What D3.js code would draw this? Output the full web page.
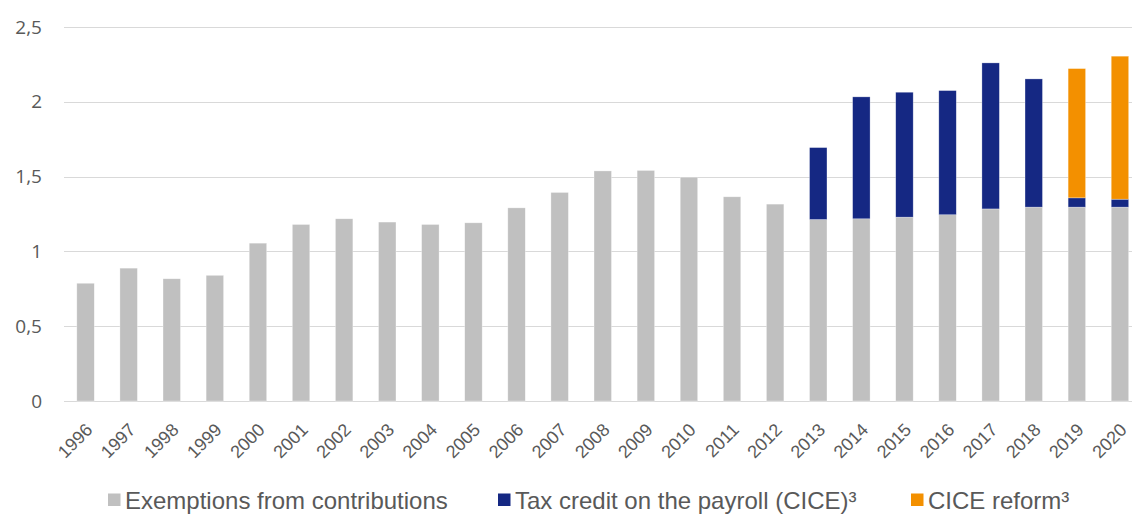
<!DOCTYPE html>
<html>
<head>
<meta charset="utf-8">
<script src="https://cdn.jsdelivr.net/npm/d3@7"></script>
<style>
  body { margin: 0; background: #fff; }
  svg { display: block; }
</style>
</head>
<body>
<div id="chart"></div>
<script>
const years = ['1996', '1997', '1998', '1999', '2000', '2001', '2002', '2003', '2004', '2005', '2006', '2007', '2008', '2009', '2010', '2011', '2012', '2013', '2014', '2015', '2016', '2017', '2018', '2019', '2020']

const exemptions = [0.787, 0.888, 0.817, 0.840, 1.055, 1.180, 1.218, 1.196, 1.180, 1.191, 1.291, 1.394, 1.538, 1.541, 1.496, 1.365, 1.316, 1.213, 1.218, 1.229, 1.245, 1.284, 1.296, 1.296, 1.296]
const cice = [0, 0, 0, 0, 0, 0, 0, 0, 0, 0, 0, 0, 0, 0, 0, 0, 0, 0.481, 0.815, 0.835, 0.830, 0.976, 0.857, 0.062, 0.053]
const ciceReform = [0, 0, 0, 0, 0, 0, 0, 0, 0, 0, 0, 0, 0, 0, 0, 0, 0, 0, 0, 0, 0, 0, 0, 0.864, 0.956]

const yTicks = [0, 0.5, 1, 1.5, 2, 2.5]
const seriesNames = ['Exemptions from contributions', 'Tax credit on the payroll (CICE)³', 'CICE reform³']
const seriesKeys = ['exemptions', 'cice', 'reform']

const width = 1132
const height = 514
const margin = { top: 27, left: 64, bottom: 113 }
const step = 43.1

const colorScale = d3.scaleOrdinal()
  .domain(seriesKeys)
  .range(['#c0c0c0', '#152883', '#f39000'])

const table = years.map((y, i) => ({
  year: y,
  exemptions: exemptions[i],
  cice: cice[i],
  reform: ciceReform[i]
}))

const svg = d3.select('#chart')
  .append('svg')
  .attr('width', width)
  .attr('height', height)

const xPositionScale = d3.scaleBand()
  .domain(years)
  .range([margin.left, margin.left + step * years.length])
  .paddingInner(0.595)
  .paddingOuter(0.2975)

const yPositionScale = d3.scaleLinear()
  .domain([0, 2.5])
  .range([height - margin.bottom, margin.top])

// gridlines
svg.append('g')
  .selectAll('line')
  .data(yTicks)
  .enter()
  .append('line')
  .attr('x1', margin.left)
  .attr('x2', width)
  .attr('y1', d => Math.round(yPositionScale(d)) + 0.5)
  .attr('y2', d => Math.round(yPositionScale(d)) + 0.5)
  .attr('stroke', '#d9d9d9')
  .attr('stroke-width', 1)

// y labels
const yAxis = d3.axisLeft(yPositionScale)
  .tickValues(yTicks)
  .tickSize(0)
  .tickPadding(0)
  .tickFormat(d => String(d).replace('.', ','))

svg.append('g')
  .attr('class', 'axis y-axis')
  .attr('transform', 'translate(42,0)')
  .call(yAxis)
  .call(g => g.select('.domain').remove())
  .selectAll('text')
  .attr('font-family', '"Open Sans", sans-serif')
  .attr('font-size', 19)
  .attr('fill', '#595959')

// stacked bars
const stacked = d3.stack().keys(seriesKeys)(table)

svg.append('g')
  .selectAll('g')
  .data(stacked)
  .enter()
  .append('g')
  .attr('fill', d => colorScale(d.key))
  .selectAll('rect')
  .data(d => d.filter(p => p[1] - p[0] > 0))
  .enter()
  .append('rect')
  .attr('x', d => xPositionScale(d.data.year))
  .attr('width', xPositionScale.bandwidth())
  .attr('y', d => yPositionScale(d[1]))
  .attr('height', d => yPositionScale(d[0]) - yPositionScale(d[1]))
  .attr('stroke', 'rgba(255,255,255,0.5)')
  .attr('stroke-width', 0.6)

// x labels
const xAxis = d3.axisBottom(xPositionScale).tickSize(0).tickPadding(0)

svg.append('g')
  .attr('class', 'axis x-axis')
  .attr('transform', `translate(0,${yPositionScale(0)})`)
  .call(xAxis)
  .call(g => g.select('.domain').remove())
  .selectAll('text')
  .attr('font-family', '"Liberation Sans", Arial, sans-serif')
  .attr('font-size', 18)
  .attr('fill', '#595959')
  .attr('text-anchor', 'end')
  .attr('dy', null)
  .attr('y', 0)
  .attr('transform', 'translate(8,30) rotate(-45)')

// legend
const legendX = [108, 498, 911]
const legend = svg.append('g')
  .attr('transform', 'translate(0,500)')

const items = legend.selectAll('g')
  .data(seriesKeys)
  .enter()
  .append('g')
  .attr('transform', (d, i) => `translate(${legendX[i]},0)`)

items.append('rect')
  .attr('x', 0)
  .attr('y', -6.5)
  .attr('width', 12.5)
  .attr('height', 12.5)
  .attr('fill', d => colorScale(d))

items.append('text')
  .attr('x', 17)
  .attr('y', 8.5)
  .attr('font-family', '"Liberation Sans", Arial, sans-serif')
  .attr('font-size', 24)
  .attr('fill', '#595959')
  .text((d, i) => seriesNames[i])
</script>
</body>
</html>
